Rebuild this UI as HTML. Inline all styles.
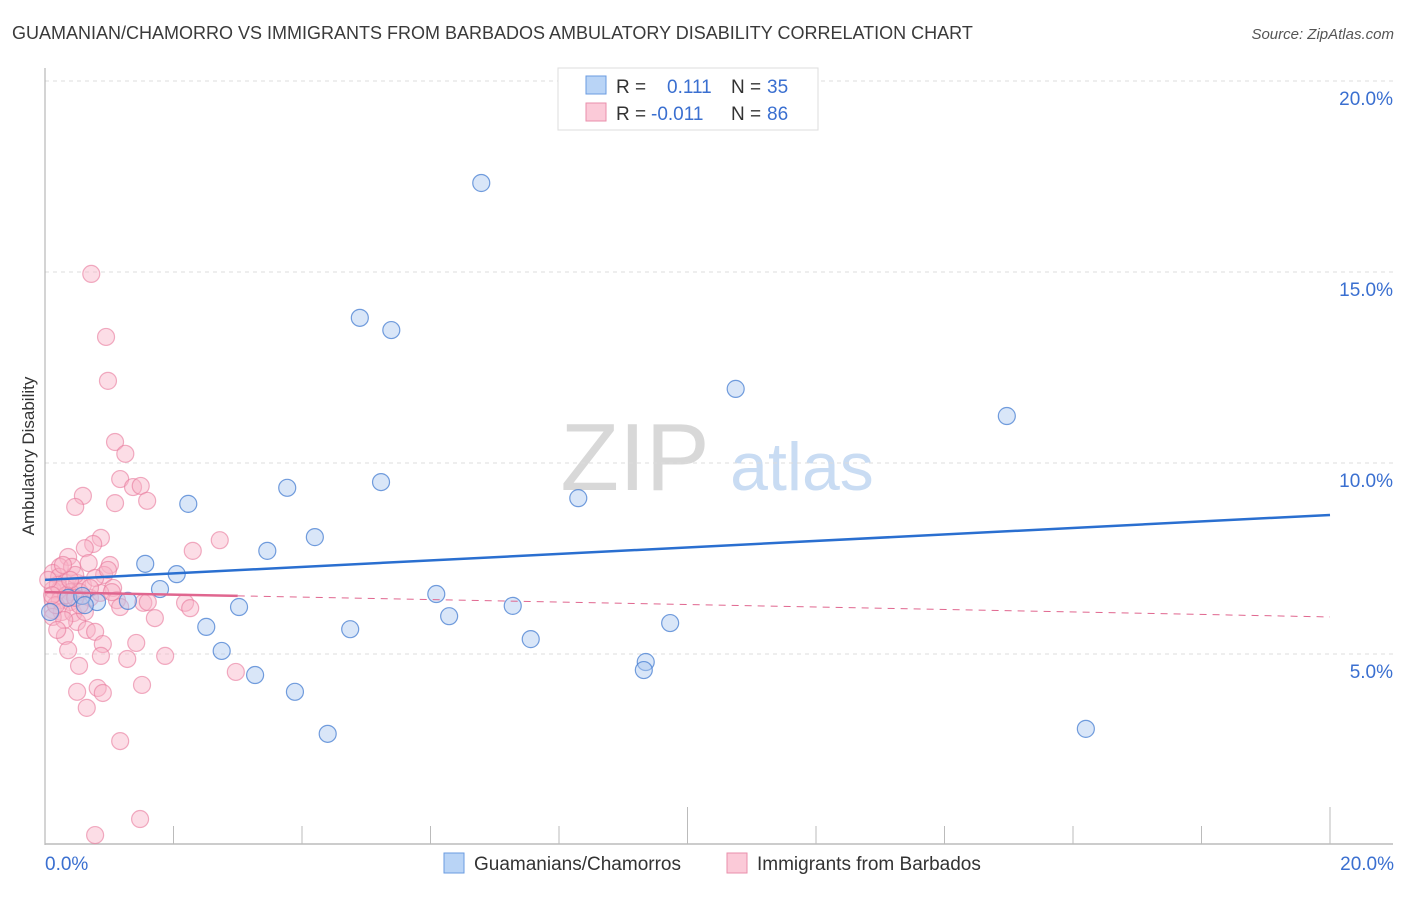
<!DOCTYPE html>
<html><head><meta charset="utf-8"><style>
body{margin:0;background:#fff;font-family:"Liberation Sans",sans-serif;}
svg text{font-family:"Liberation Sans",sans-serif;}
</style></head><body>
<svg id="chart" width="1406" height="892" xmlns="http://www.w3.org/2000/svg">
<text x="12" y="39" font-size="18" fill="#3a3a3a">GUAMANIAN/CHAMORRO VS IMMIGRANTS FROM BARBADOS AMBULATORY DISABILITY CORRELATION CHART</text>
<text x="1394" y="39" font-size="15" fill="#555" text-anchor="end" font-style="italic">Source: ZipAtlas.com</text>
<g>
<text x="635" y="490" font-size="96" fill="#d8d8d8" font-family="Liberation Serif" text-anchor="middle">ZIP</text>
<text x="802" y="490" font-size="68" fill="#c9dcf3" text-anchor="middle">atlas</text>
</g>
<g id="grid"></g>
<g id="axes"></g>
<g id="marks"></g>
<text transform="translate(34,456) rotate(-90)" font-size="17" fill="#333" text-anchor="middle">Ambulatory Disability</text>
<g>
<rect x="558" y="68" width="260" height="62" fill="#fff" stroke="#ddd"/>
<rect x="586" y="76" width="20" height="18" fill="#b9d4f6" stroke="#6a9be0"/>
<text x="616" y="93" font-size="19" fill="#333">R =</text>
<text x="667" y="93" font-size="19" fill="#3a6fd0">0.111</text>
<text x="731" y="93" font-size="19" fill="#333">N =</text>
<text x="767" y="93" font-size="19" fill="#3a6fd0">35</text>
<rect x="586" y="103" width="20" height="18" fill="#fbcad8" stroke="#ea8fab"/>
<text x="616" y="120" font-size="19" fill="#333">R =</text>
<text x="651" y="120" font-size="19" fill="#3a6fd0">-0.011</text>
<text x="731" y="120" font-size="19" fill="#333">N =</text>
<text x="767" y="120" font-size="19" fill="#3a6fd0">86</text>
</g>
<g>
<rect x="444" y="853" width="20" height="20" fill="#b9d4f6" stroke="#6a9be0"/>
<text x="474" y="870" font-size="19" fill="#333">Guamanians/Chamorros</text>
<rect x="727" y="853" width="20" height="20" fill="#fbcad8" stroke="#ea8fab"/>
<text x="757" y="870" font-size="19" fill="#333">Immigrants from Barbados</text>
</g>
</svg>
<script>
const yTicks=[5,10,15,20];
const yTickLabels=["5.0%","10.0%","15.0%","20.0%"];
const xTickLabels=["0.0%","20.0%"];
const blueX=[6.79,4.90,5.39,10.75,14.97,2.23,3.77,5.23,8.30,4.20,3.46,1.56,2.05,1.79,6.09,7.28,3.02,1.29,0.81,6.29,9.73,2.51,4.75,7.56,2.75,9.35,9.32,3.27,3.89,4.40,16.20,0.08,0.36,0.58,0.62];
const blueY=[17.33,13.80,13.48,11.94,11.23,8.93,9.35,9.50,9.08,8.06,7.70,7.36,7.09,6.70,6.57,6.26,6.23,6.39,6.36,5.99,5.81,5.71,5.65,5.39,5.08,4.79,4.58,4.45,4.01,2.91,3.04,6.10,6.47,6.52,6.28];
const pinkX=[0.72,0.95,0.98,1.09,1.25,1.17,1.37,1.49,1.59,1.09,0.59,0.47,0.87,0.75,0.62,0.68,1.01,0.92,0.36,0.23,0.42,0.12,0.22,0.31,0.50,0.59,0.12,0.23,0.39,0.54,0.12,0.23,0.39,0.12,0.26,0.44,0.12,0.50,1.06,1.12,1.17,1.53,1.60,1.71,2.18,2.26,2.30,2.72,0.65,0.78,0.31,0.36,0.90,0.87,1.42,1.28,0.53,1.87,0.50,0.82,0.90,1.51,0.65,1.17,2.97,1.48,0.78,0.17,0.33,0.47,0.70,0.20,0.86,0.30,0.05,0.78,0.98,0.11,0.62,0.39,0.54,1.04,0.28,0.70,0.19,0.47];
const pinkY=[14.95,13.30,12.15,10.55,10.24,9.58,9.37,9.40,9.01,8.95,9.14,8.85,8.04,7.88,7.77,7.38,7.33,7.07,7.54,7.28,7.28,7.12,7.02,6.86,6.86,6.81,6.68,6.68,6.62,6.62,6.41,6.41,6.36,6.15,6.10,6.07,5.97,5.84,6.73,6.41,6.23,6.34,6.36,5.94,6.34,6.20,7.70,7.98,5.63,5.58,5.47,5.10,5.26,4.95,5.29,4.87,4.69,4.95,4.01,4.11,3.98,4.19,3.59,2.72,4.53,0.68,0.26,6.28,6.54,7.07,6.47,6.81,6.60,5.89,6.94,6.99,7.20,6.54,6.10,6.94,6.28,6.62,7.33,6.73,5.63,6.47];
const blueTrendY=[6.94,8.64];
const pinkTrendY=[6.62,5.97];
const pinkSolidEndX=3.0;

const X=v=>45+v/20*1285, Y=v=>845-v*38.2;
const NS="http://www.w3.org/2000/svg";
function mk(tag,attrs,parent){const e=document.createElementNS(NS,tag);for(const k in attrs)e.setAttribute(k,attrs[k]);parent.appendChild(e);return e;}
const grid=document.getElementById('grid'),axes=document.getElementById('axes'),marks=document.getElementById('marks');
yTicks.forEach((t,i)=>{
 const g=mk('line',{x1:45,x2:1393,y1:Y(t),y2:Y(t),stroke:'#ddd','stroke-dasharray':'4,4'},grid);
 
 
 const l=mk('text',{x:1393,y:Y(t)+24,'font-size':19,fill:'#3a6fd0','text-anchor':'end'},axes);
 l.textContent=yTickLabels[i];
 
 
});
const la=mk('line',{x1:45,x2:45,y1:68,y2:845,stroke:'#aaa'},axes);


const ba=mk('line',{x1:45,x2:1393,y1:844,y2:844,stroke:'#bbb','stroke-width':1.5},axes);


for(let i=1;i<=10;i++){
 const v=i*2;
 const tk=mk('line',{x1:X(v),x2:X(v),y1:(i==5||i==10)?807:826,y2:844,stroke:'#bbb'},axes);
 
 
}
[[0,'start',45],[20,'end',1394]].forEach((d,i)=>{
 const t=mk('text',{x:d[2],y:870,'font-size':19,fill:'#3a6fd0','text-anchor':d[1]},axes);
 t.textContent=xTickLabels[i];
 
 
});
pinkX.forEach((x,i)=>{
 const c=mk('circle',{cx:X(x),cy:Y(pinkY[i]),r:8.5,fill:'rgba(248,180,200,0.45)',stroke:'rgba(232,120,155,0.6)','stroke-width':1.2},marks);
 
 
});
blueX.forEach((x,i)=>{
 const c=mk('circle',{cx:X(x),cy:Y(blueY[i]),r:8.5,fill:'rgba(170,200,240,0.45)',stroke:'rgba(70,125,210,0.75)','stroke-width':1.2},marks);
 
 
});
const pAt=x=>pinkTrendY[0]+(pinkTrendY[1]-pinkTrendY[0])*x/20;
const pd=mk('line',{x1:X(pinkSolidEndX),y1:Y(pAt(pinkSolidEndX)),x2:X(20),y2:Y(pinkTrendY[1]),stroke:'#e0668f','stroke-width':1,'stroke-dasharray':'7,6'},marks);


const ps=mk('line',{x1:X(0),y1:Y(pinkTrendY[0]),x2:X(pinkSolidEndX),y2:Y(pAt(pinkSolidEndX)),stroke:'#e0668f','stroke-width':2.5},marks);


const bt=mk('line',{x1:X(0),y1:Y(blueTrendY[0]),x2:X(20),y2:Y(blueTrendY[1]),stroke:'#2a6fd0','stroke-width':2.5},marks);


</script>
</body></html>
